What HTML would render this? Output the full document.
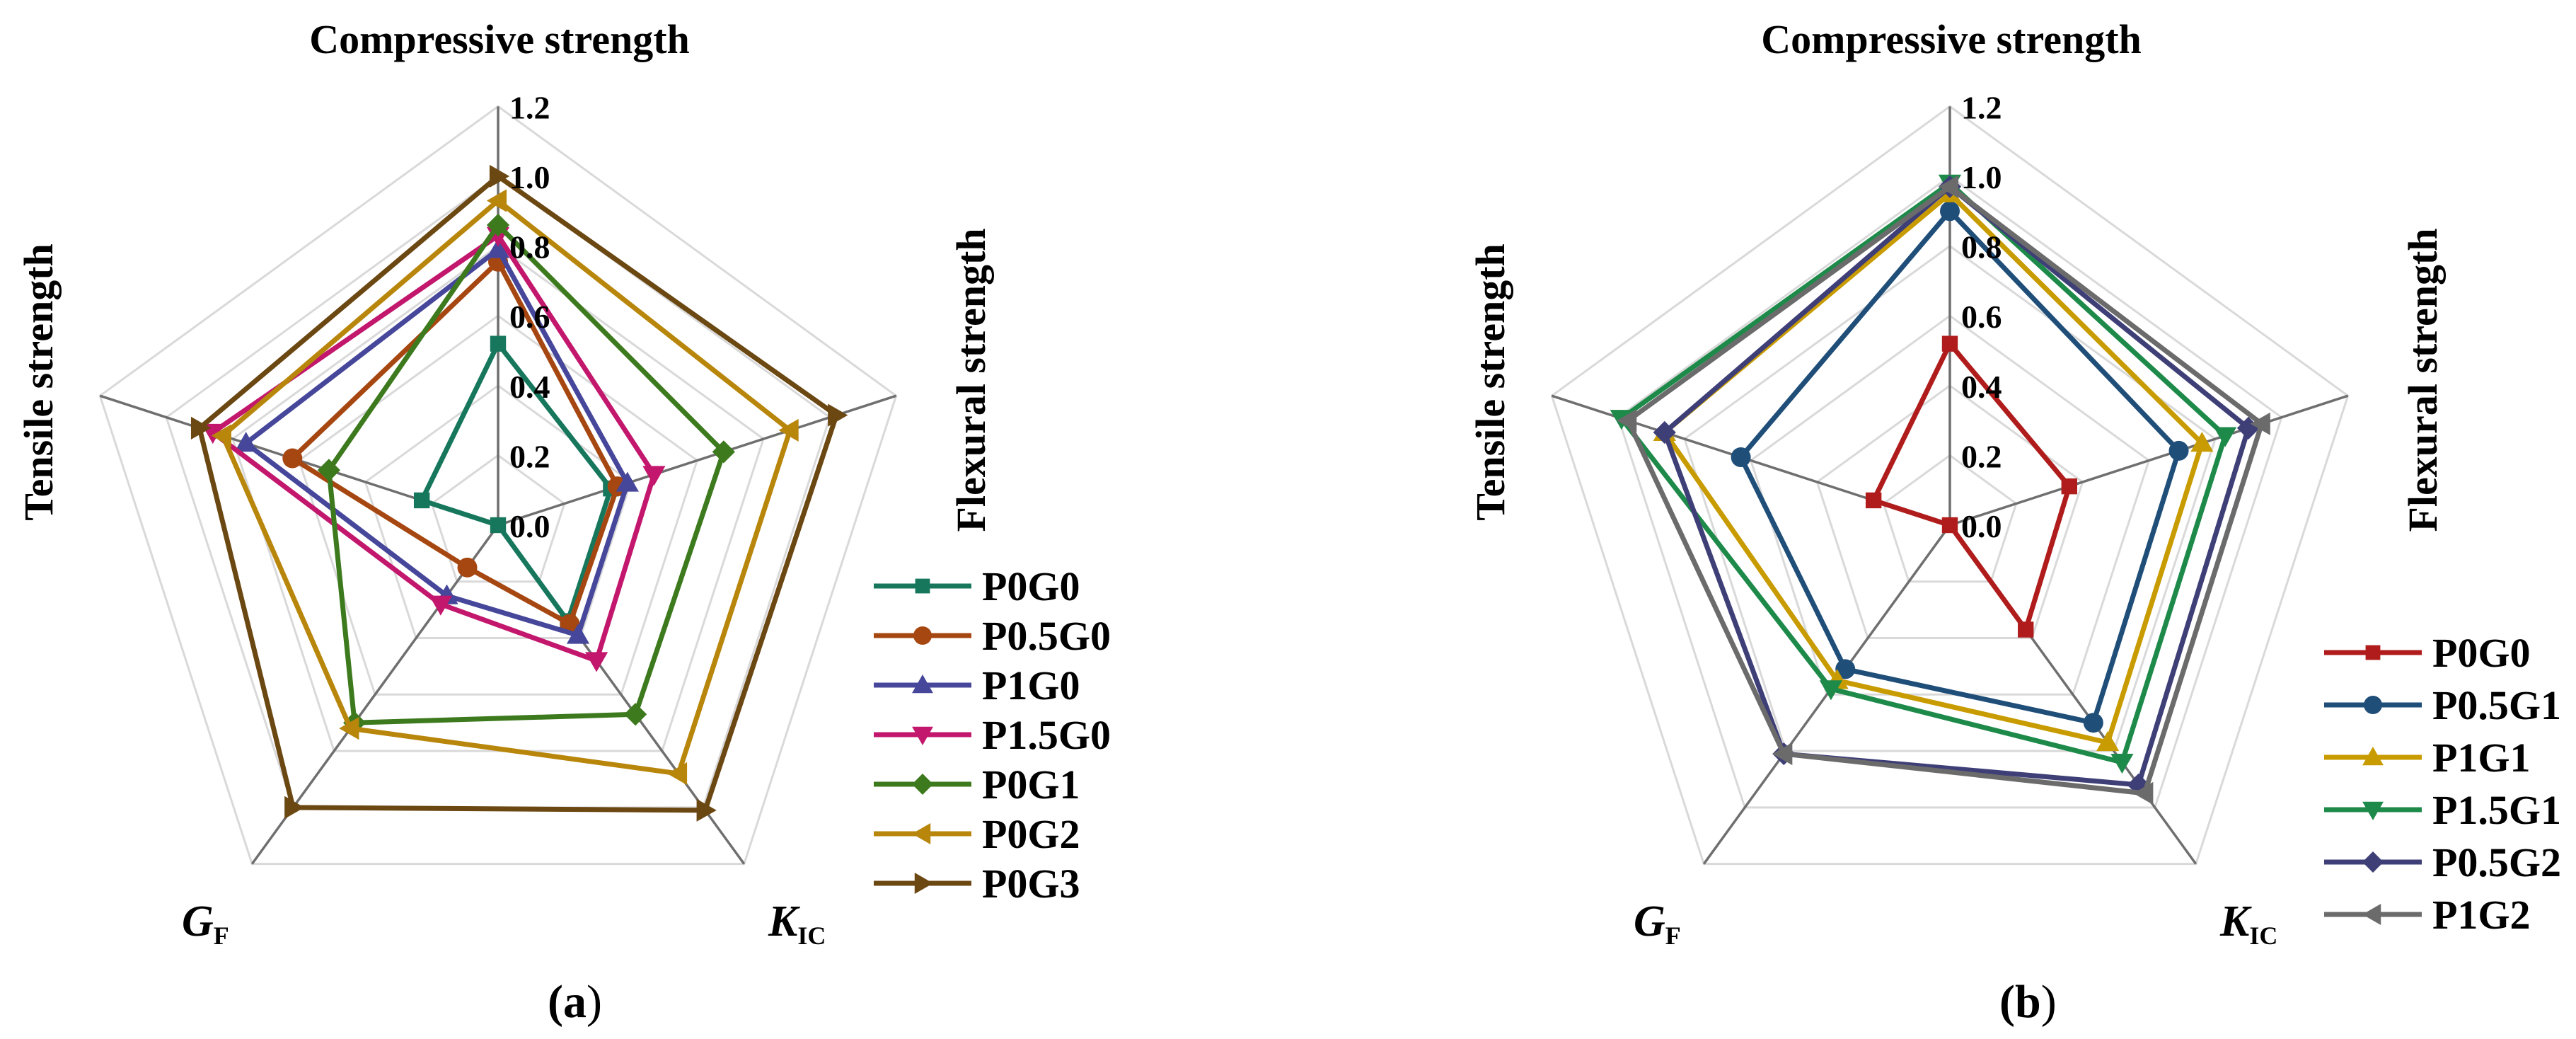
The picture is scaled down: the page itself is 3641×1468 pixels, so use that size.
<!DOCTYPE html>
<html><head><meta charset="utf-8">
<style>
html,body{margin:0;padding:0;background:#fff;}
svg{display:block;}
text{font-family:"Liberation Serif",serif;font-weight:bold;fill:#000;}
</style></head>
<body>
<svg id="fig" width="3641" height="1468" viewBox="0 0 3641 1468" xmlns="http://www.w3.org/2000/svg"></svg>
<script>
// ---- data ----
// axis order: Compressive, Flexural, K_IC, G_F, Tensile
const axisNames = ["Compressive strength","Flexural strength","KIC","GF","Tensile strength"];
const tickLabels = ["0.0","0.2","0.4","0.6","0.8","1.0","1.2"];
const tickValues = [0,0.2,0.4,0.6,0.8,1.0,1.2];

const seriesA = ["P0G0","P0.5G0","P1G0","P1.5G0","P0G1","P0G2","P0G3"];
const a_P0G0   = [0.52,0.34,0.34,0.00,0.23];
const a_P05G0  = [0.755,0.36,0.35,0.15,0.62];
const a_P1G0   = [0.79,0.39,0.39,0.25,0.76];
const a_P15G0  = [0.83,0.47,0.48,0.28,0.86];
const a_P0G1   = [0.86,0.68,0.67,0.70,0.51];
const a_P0G2   = [0.93,0.88,0.88,0.72,0.83];
const a_P0G3   = [1.00,1.02,1.01,1.00,0.90];

const seriesB = ["P0G0","P0.5G1","P1G1","P1.5G1","P0.5G2","P1G2"];
const b_P0G0   = [0.52,0.36,0.37,0.00,0.23];
const b_P05G1  = [0.90,0.69,0.70,0.51,0.63];
const b_P1G1   = [0.95,0.76,0.77,0.55,0.86];
const b_P15G1  = [0.98,0.83,0.84,0.58,0.99];
const b_P05G2  = [0.97,0.90,0.92,0.81,0.86];
const b_P1G2   = [0.97,0.94,0.95,0.81,0.97];

const valuesA = [a_P0G0,a_P05G0,a_P1G0,a_P15G0,a_P0G1,a_P0G2,a_P0G3];
const valuesB = [b_P0G0,b_P05G1,b_P1G1,b_P15G1,b_P05G2,b_P1G2];
const colorsA = ["#16775c","#a64711","#46479a","#c2176c","#3d7a1e","#b8860b","#6b4712"];
const colorsB = ["#b01c1c","#1f4e79","#c89b00","#1e8a4a","#3f3f78","#6b6b6b"];
const markersA = ["square","circle","up","down","diamond","left","right"];
const markersB = ["square","circle","up","down","diamond","left"];

// ---- drawing ----
const NS = "http://www.w3.org/2000/svg";
const svg = document.getElementById("fig");
const UNIT = 493, MAXV = 1.2;
function mk(tag, attrs, parent){
  const e = document.createElementNS(NS, tag);
  for (const k in attrs) e.setAttribute(k, attrs[k]);
  (parent||svg).appendChild(e);
  return e;
}
function pt(cx, cy, i, v){
  const ang = -Math.PI/2 + i*2*Math.PI/5;
  return [cx + Math.cos(ang)*v*UNIT, cy + Math.sin(ang)*v*UNIT];
}
function marker(g, type, x, y, color, s){
  let el;
  if (type==="square") el = mk("rect",{x:x-s*0.8,y:y-s*0.8,width:s*1.6,height:s*1.6,fill:color},g);
  else if (type==="circle") el = mk("circle",{cx:x,cy:y,r:s,fill:color},g);
  else {
    let p;
    const t=s*1.15;
    if (type==="up") p=[[x,y-t],[x+t,y+t*0.75],[x-t,y+t*0.75]];
    else if (type==="down") p=[[x,y+t],[x+t,y-t*0.75],[x-t,y-t*0.75]];
    else if (type==="left") p=[[x-t,y],[x+t*0.75,y-t],[x+t*0.75,y+t]];
    else if (type==="right") p=[[x+t,y],[x-t*0.75,y-t],[x-t*0.75,y+t]];
    else p=[[x,y-t],[x+t,y],[x,y+t],[x-t,y]];
    el = mk("polygon",{points:p.map(q=>q.join(",")).join(" "),fill:color},g);
  }
  return el;
}
function txt(parent, x, y, s, size, extra){
  const t = mk("text", Object.assign({x:x,y:y,"font-size":size}, extra||{}), parent);
  t.textContent = s;
  return t;
}

function radar(cfg){
  const {cx, cy, names, values, colors, markers, prefix, legX, legY0, legDy, lab} = cfg;
  const g = mk("g",{});
  
  
  // grid rings
  const grid = mk("g",{},g);
  
  
  tickValues.forEach(v=>{
    if (v===0) return;
    const pts=[0,1,2,3,4].map(i=>pt(cx,cy,i,v).join(",")).join(" ");
    const r = mk("polygon",{points:pts,fill:"none",stroke:"#d9d9d9","stroke-width":3},grid);
    
    
  });
  for (let i=0;i<5;i++){
    const e = pt(cx,cy,i,MAXV);
    const l = mk("line",{x1:cx,y1:cy,x2:e[0],y2:e[1],stroke:"#6f6f6f","stroke-width":3.5},grid);
    
    
  }
  // series
  values.forEach((vals,si)=>{
    const sg = mk("g",{},g);
    
    
    const pts = vals.map((v,i)=>pt(cx,cy,i,v));
    mk("polygon",{points:pts.map(p=>p.join(",")).join(" "),fill:"none",stroke:colors[si],"stroke-width":7,"stroke-linejoin":"miter"},sg);
    pts.forEach(p=>{
      const m = marker(sg, markers[si], p[0], p[1], colors[si], 14);
      
      
    });
  });
  // tick labels
  tickValues.forEach((v,i)=>{
    const p = pt(cx,cy,0,v);
    const t = txt(g, cx+16, p[1]+17, tickLabels[i], 46);
    
    
  });
  // axis titles
  let t = txt(g, cx+2, 75, axisNames[0], 58, {"text-anchor":"middle"});
  
  
  t = txt(g, 0, 0, axisNames[1], 58, {"text-anchor":"middle",transform:"translate("+(cx+688)+",537) rotate(-90)"});
  
  
  t = txt(g, 0, 0, axisNames[4], 58, {"text-anchor":"middle",transform:"translate("+(cx-630)+",540) rotate(-90)"});
  
  
  t = txt(g, cx-447, 1322, "G", 62, {"font-style":"italic"});
  const s1 = mk("tspan",{"font-size":36,"font-style":"normal",dy:12},t); s1.textContent="F";
  
  
  t = txt(g, cx+382, 1322, "K", 62, {"font-style":"italic"});
  const s2 = mk("tspan",{"font-size":36,"font-style":"normal",dy:12},t); s2.textContent="IC";
  
  
  // panel label
  t = txt(g, cx+92, 1437, "(", 66, {"text-anchor":"end","font-weight":"normal"});
  
  
  const lt = txt(g, cx+92, 1437, lab, 66, {"text-anchor":"start"});
  const lt2 = mk("tspan",{"font-weight":"normal"},lt); lt2.textContent=")";
  
  
  // legend
  const lg = mk("g",{},g);
  
  
  names.forEach((n,si)=>{
    const y = legY0 + si*legDy;
    const eg = mk("g",{},lg);
    
    
    mk("line",{x1:legX,y1:y,x2:legX+138,y2:y,stroke:colors[si],"stroke-width":7},eg);
    marker(eg, markers[si], legX+69, y, colors[si], 13);
    txt(eg, legX+153, y+20, n, 58);
  });
}

radar({cx:704, cy:742, names:seriesA, values:valuesA, colors:colorsA, markers:markersA,
  prefix:"panel-a", legX:1235, legY0:828, legDy:70, lab:"a"});
radar({cx:2756, cy:742, names:seriesB, values:valuesB, colors:colorsB, markers:markersB,
  prefix:"panel-b", legX:3285, legY0:922, legDy:74, lab:"b"});
</script>
</body></html>
